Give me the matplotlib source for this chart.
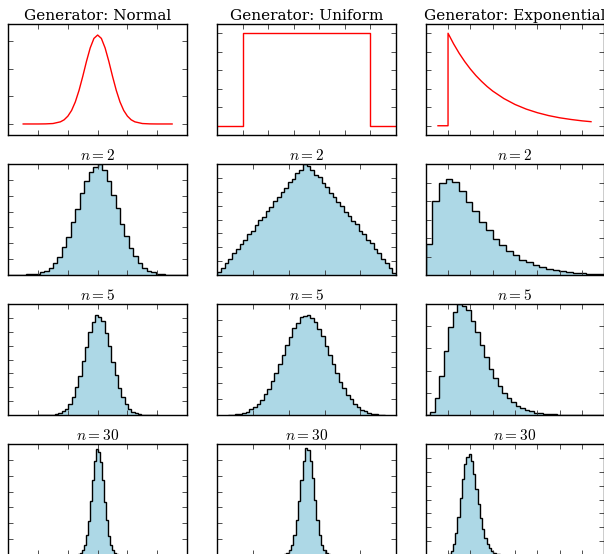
import numpy as np
import matplotlib
matplotlib.use("Agg")
import matplotlib.pyplot as plt

plt.rcParams.update({
    "mathtext.fontset": "cm",
    "xtick.direction": "in", "ytick.direction": "in",
    "xtick.top": True, "ytick.right": True,
    "xtick.major.size": 3.5, "ytick.major.size": 3.5,
    "xtick.major.width": 0.6, "ytick.major.width": 0.6,
    "axes.linewidth": 1.0,
})

# ---------------- data ----------------
generators = ["Normal", "Uniform", "Exponential"]
sample_sizes = [2, 5, 30]

# top row: generator densities
normal_x = [-2.5, -2.0, -1.75, -1.5, -1.25, -1.125, -1.0, -0.875, -0.75, -0.625, -0.5, -0.375,
            -0.25, -0.125, 0.0, 0.125, 0.25, 0.375, 0.5, 0.625, 0.75, 0.875, 1.0, 1.125,
            1.25, 1.5, 1.75, 2.0, 2.5]
normal_y = [0.0, 0.0, 0.001, 0.005, 0.024, 0.047, 0.088, 0.152, 0.248, 0.378, 0.535, 0.704,
            0.855, 0.962, 1.0, 0.962, 0.855, 0.704, 0.535, 0.378, 0.248, 0.152, 0.088, 0.047,
            0.024, 0.005, 0.001, 0.0, 0.0]
uniform_x = [-0.2, 0.0, 0.0, 1.0, 1.0, 1.2]
uniform_y = [0.0, 0.0, 1.0, 1.0, 0.0, 0.0]
expo_x = [-0.45, 0.0, 0.0, 0.25, 0.5, 0.75, 1.0, 1.25, 1.5, 1.75, 2.0, 2.5, 3.0, 3.5,
          4.0, 4.5, 5.0, 5.5, 6.0, 6.4]
expo_y = [0.0, 0.0, 1.0, 0.885, 0.783, 0.693, 0.613, 0.542, 0.480, 0.424, 0.375, 0.294,
          0.230, 0.180, 0.141, 0.110, 0.086, 0.068, 0.053, 0.044]

# histogram bar heights (relative to the axis height), left edge and bin width (axis units)
normal_n2 = [0.000, 0.001, 0.002, 0.003, 0.005, 0.008, 0.013, 0.023, 0.040, 0.064,
             0.110, 0.160, 0.250, 0.340, 0.475, 0.595, 0.740, 0.850, 0.930, 0.975,
             1.000, 0.945, 0.845, 0.725, 0.605, 0.462, 0.352, 0.243, 0.170, 0.104,
             0.067, 0.038, 0.023, 0.012, 0.007, 0.004, 0.002, 0.001, 0.001, 0.000]
normal_n5 = [0.000, 0.000, 0.001, 0.002, 0.004, 0.008, 0.015, 0.032, 0.056, 0.100,
             0.160, 0.250, 0.355, 0.490, 0.615, 0.748, 0.835, 0.900, 0.885, 0.845,
             0.740, 0.625, 0.480, 0.362, 0.245, 0.165, 0.097, 0.058, 0.030, 0.017,
             0.008, 0.004, 0.002, 0.001, 0.000, 0.000]
normal_n30 = [0.000, 0.0002, 0.0006, 0.002, 0.006, 0.017, 0.043, 0.090, 0.180, 0.308,
              0.485, 0.672, 0.845, 0.955, 0.930, 0.840, 0.680, 0.480, 0.312, 0.175,
              0.093, 0.041, 0.018, 0.006, 0.002, 0.0006, 0.0002, 0.000]
uniform_n2 = [0.025, 0.060, 0.110, 0.145, 0.195, 0.230, 0.280, 0.315, 0.365, 0.400,
              0.450, 0.495, 0.525, 0.580, 0.610, 0.665, 0.700, 0.750, 0.780, 0.835,
              0.865, 0.920, 0.950, 1.000, 0.985, 0.945, 0.905, 0.880, 0.825, 0.795,
              0.740, 0.705, 0.655, 0.620, 0.570, 0.535, 0.485, 0.455, 0.400, 0.370,
              0.315, 0.285, 0.230, 0.200, 0.145, 0.110, 0.065, 0.020]
uniform_n5 = [0.002, 0.004, 0.007, 0.012, 0.020, 0.031, 0.052, 0.070, 0.103, 0.135,
              0.186, 0.236, 0.307, 0.375, 0.462, 0.538, 0.630, 0.702, 0.780, 0.832,
              0.880, 0.895, 0.900, 0.872, 0.838, 0.774, 0.710, 0.622, 0.545, 0.455,
              0.380, 0.300, 0.242, 0.181, 0.140, 0.099, 0.073, 0.048, 0.034, 0.021,
              0.013, 0.007, 0.004, 0.002]
uniform_n30 = [0.000, 0.0002, 0.0007, 0.002, 0.007, 0.018, 0.042, 0.092, 0.176, 0.312,
               0.490, 0.680, 0.850, 0.967, 0.945, 0.848, 0.690, 0.492, 0.318, 0.180,
               0.090, 0.044, 0.017, 0.006, 0.002, 0.0006, 0.0002, 0.000]
expo_n2 = [0.280, 0.665, 0.830, 0.868, 0.835, 0.755, 0.660, 0.575, 0.480, 0.405,
           0.328, 0.272, 0.215, 0.178, 0.139, 0.114, 0.088, 0.071, 0.054, 0.045,
           0.033, 0.028, 0.020, 0.017, 0.012, 0.010, 0.007]
expo_n5 = [0.001, 0.030, 0.150, 0.352, 0.578, 0.790, 0.925, 1.000, 0.985, 0.950,
           0.850, 0.752, 0.628, 0.525, 0.418, 0.337, 0.258, 0.201, 0.150, 0.115,
           0.083, 0.062, 0.044, 0.033, 0.022, 0.017, 0.011, 0.008, 0.005, 0.004,
           0.003, 0.002, 0.001, 0.001, 0.0005, 0.0003, 0.0002, 0.0001, 0.0001, 0.0]
expo_n30 = [0.0006, 0.0033, 0.013, 0.039, 0.097, 0.196, 0.340, 0.512, 0.686, 0.824,
            0.885, 0.907, 0.844, 0.733, 0.598, 0.461, 0.336, 0.235, 0.156, 0.100,
            0.061, 0.037, 0.021, 0.0116, 0.0063, 0.0033, 0.0016, 0.0008]

hist_counts = [[normal_n2, uniform_n2, expo_n2],
               [normal_n5, uniform_n5, expo_n5],
               [normal_n30, uniform_n30, expo_n30]]
hist_start = [[0.0, 0.0, 0.0],
              [0.168, 0.06, 0.0],
              [0.3466, 0.321, 0.101]]
hist_width = [[1 / 40, 1 / 48, 0.0374],
              [0.0186, 0.02, 0.02525],
              [0.01117, 0.013, 0.01262]]

# ---------------- layout ----------------
W, H = 604, 554
fig = plt.figure(figsize=(W / 100, H / 100), dpi=100, facecolor="white")
col_left = [8.3, 217.3, 425.7]
row_top = [24, 164, 304, 444]
aw, ah = 178.7, 111


def make_ax(r, c):
    l = col_left[c] / W
    b = (H - row_top[r] - ah) / H
    ax = fig.add_axes([l, b, aw / W, ah / H])
    ax.tick_params(labelbottom=False, labelleft=False, labeltop=False, labelright=False,
                   color="#333333")
    return ax


title_font = dict(family="DejaVu Serif", fontsize=11)

# top row
top_data = [(normal_x, normal_y), (uniform_x, uniform_y), (expo_x, expo_y)]
top_xlim = [(-3, 3), (-0.2, 1.2), (-1, 7)]
top_xticks = [np.arange(-2, 3, 1), np.arange(0, 1.01, 0.2), np.arange(0, 7, 1)]
top_ylim = [(-0.124, 1.124), (-0.1, 1.1), (-0.1, 1.1)]
top_yticks = [[0, 0.311, 0.622, 0.933], np.arange(0, 1.01, 0.2), np.arange(0, 1.01, 0.2)]
for c in range(3):
    ax = make_ax(0, c)
    x, y = top_data[c]
    ax.plot(x, y, color="red", lw=1.0)
    ax.set_xlim(*top_xlim[c])
    ax.set_ylim(*top_ylim[c])
    ax.set_xticks(top_xticks[c])
    ax.set_yticks(top_yticks[c])
    ax.set_title(f"Generator: {generators[c]}", pad=3, **title_font)

hist_xticks = [np.arange(1, 6) / 6, np.arange(1, 5) / 5, np.arange(1, 8) / 8]
hist_ydiv = [[7, 8, 6], [8, 7, 5], [7, 7, 8]]
for r in range(3):
    for c in range(3):
        ax = make_ax(r + 1, c)
        vals = hist_counts[r][c]
        edges = hist_start[r][c] + hist_width[r][c] * np.arange(len(vals) + 1)
        ax.stairs(vals, edges, fill=True, facecolor="lightblue", edgecolor="black", lw=1.0)
        ax.set_xlim(0, 1)
        ax.set_ylim(0, 1)
        ax.set_xticks(hist_xticks[c])
        n = hist_ydiv[r][c]
        ax.set_yticks(np.arange(1, n) / n)
        ax.set_title(f"$n={sample_sizes[r]}$", pad=3, fontsize=11)

fig.savefig("out.png", dpi=100, facecolor="white")
